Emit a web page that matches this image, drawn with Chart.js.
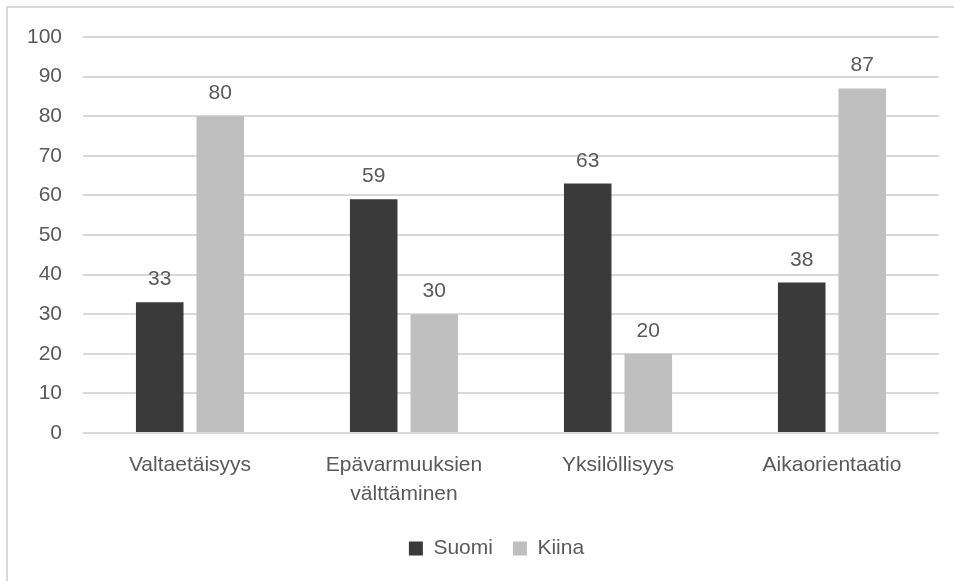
<!DOCTYPE html>
<html>
<head>
<meta charset="utf-8">
<script src="https://cdn.jsdelivr.net/npm/chart.js@4"></script>
<style>
  body { margin: 0; background: #fff; }
  #frame { position: absolute; left: 6px; top: 6px; width: 960px; height: 590px;
           border-left: 2px solid #d9d9d9; border-top: 2px solid #d9d9d9; }
  #wrap { position: absolute; left: 0; top: 0; width: 954px; height: 581px; }
</style>
</head>
<body>
<div id="frame"></div>
<div id="wrap"><canvas id="myChart"></canvas></div>
<script>
// Hofstede-ulottuvuudet, Suomi vs Kiina
var categories = ['Valtaetäisyys', ['Epävarmuuksien', 'välttäminen'], 'Yksilöllisyys', 'Aikaorientaatio'];
var suomi = [33, 59, 63, 38];
var kiina = [80, 30, 20, 87];
var yTicks = [0, 10, 20, 30, 40, 50, 60, 70, 80, 90, 100];

var textColor = '#595959';
var fontFamily = '"Liberation Sans", Arial, sans-serif';

// value labels above each bar
var valueLabels = {
  id: 'valueLabels',
  afterLayout: function (chart) {
    // legend sits a bit right of centre in the original
    chart.legend.left += 27;
    chart.legend.right += 27;
  },
  afterDatasetsDraw: function (chart) {
    var ctx = chart.ctx;
    ctx.save();
    ctx.fillStyle = textColor;
    ctx.font = '21px ' + fontFamily;
    ctx.textAlign = 'center';
    ctx.textBaseline = 'alphabetic';
    chart.data.datasets.forEach(function (ds, i) {
      chart.getDatasetMeta(i).data.forEach(function (bar, j) {
        ctx.fillText(ds.data[j], bar.x, bar.y - 17);
      });
    });
    ctx.restore();
  }
};

var ctx = document.getElementById('myChart');
var myChart = new Chart(ctx, {
  type: 'bar',
  data: {
    labels: categories,
    datasets: [
      {
        label: 'Suomi',
        data: suomi,
        backgroundColor: '#3a3a3a',
        categoryPercentage: 0.566,
        barPercentage: 0.785
      },
      {
        label: 'Kiina',
        data: kiina,
        backgroundColor: '#bfbfbf',
        categoryPercentage: 0.566,
        barPercentage: 0.785
      }
    ]
  },
  options: {
    responsive: true,
    maintainAspectRatio: false,
    animation: false,
    layout: { padding: { left: 0, right: 15, top: 37, bottom: 12 } },
    plugins: {
      tooltip: { enabled: false },
      legend: {
        position: 'bottom',
        labels: {
          color: textColor,
          font: { family: fontFamily, size: 21 },
          boxWidth: 14,
          boxHeight: 14,
          padding: 20
        }
      }
    },
    scales: {
      x: {
        grid: { display: false },
        border: { display: false },
        ticks: {
          color: textColor,
          font: { family: fontFamily, size: 21, lineHeight: 1.38 },
          padding: 10,
          maxRotation: 0
        },
        afterFit: function (scale) { scale.height = 85; }
      },
      y: {
        min: 0,
        max: 100,
        afterBuildTicks: function (scale) {
          scale.ticks = yTicks.map(function (v) { return { value: v }; });
        },
        grid: { color: '#d9d9d9', lineWidth: 2, drawTicks: false },
        border: { display: false },
        ticks: {
          color: textColor,
          font: { family: fontFamily, size: 21 },
          padding: 21
        },
        afterFit: function (scale) { scale.width = 83; }
      }
    }
  },
  plugins: [valueLabels]
});
</script>
</body>
</html>
